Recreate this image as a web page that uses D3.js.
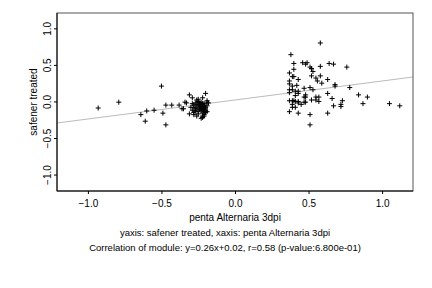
<!DOCTYPE html>
<html>
<head>
<meta charset="utf-8">
<script src="https://cdn.jsdelivr.net/npm/d3@7"></script>
<style>
  body { margin: 0; background: #fff; }
  text { font-family: "Liberation Sans", Arial, sans-serif; }
</style>
</head>
<body>
<div id="chart"></div>
<script>
// values
const xValues = [
  -0.93, -0.79, -0.50, -0.64, -0.61, -0.60, -0.55, -0.49, -0.47, -0.47, -0.43, -0.38,
  -0.34, -0.36, -0.35, -0.31, -0.29, -0.20, -0.31, -0.28, -0.26, -0.23, -0.21, -0.22,
  -0.30, -0.29, -0.28, -0.27, -0.26, -0.25, -0.24, -0.23, -0.22, -0.21, -0.20, -0.19,
  -0.28, -0.27, -0.26, -0.25, -0.24, -0.23, -0.22, -0.21, -0.20, -0.19, -0.18,
  -0.29, -0.27, -0.25, -0.24, -0.23, -0.22, -0.21, -0.20, -0.19,
  -0.28, -0.26, -0.25, -0.23, -0.22, -0.21, -0.20, -0.19,
  -0.27, -0.25, -0.24, -0.22, -0.21, -0.20, -0.25, -0.23, -0.21, -0.24, -0.22, -0.33,
  0.67, 0.58, 0.38, 0.40, 0.48, 0.49, 0.46, 0.51, 0.52, 0.58, 0.67, 0.64, 0.76, 0.40,
  0.53, 0.37, 0.40, 0.39, 0.43, 0.37, 0.56, 0.58, 0.52, 0.63, 0.55, 0.59, 0.42, 0.37,
  0.39, 0.68, 0.68, 0.78, 0.47, 0.51, 0.53, 0.37, 0.39, 0.43, 0.41, 0.43, 0.37, 0.48,
  0.63, 0.84, 0.41, 0.47, 0.48, 0.55, 0.57, 0.90, 0.66, 0.73, 0.55, 0.52, 0.57, 0.40,
  0.39, 0.41, 0.43, 0.47, 0.48, 0.37, 0.39, 0.43, 0.45, 0.72, 1.05, 1.12, 0.87, 0.39,
  0.41, 0.72, 0.37, 0.43, 0.63, 0.51, 0.51
];
const yValues = [
  -0.09, -0.01, 0.21, -0.18, -0.27, -0.13, -0.12, -0.16, -0.32, -0.05, -0.05, -0.05,
  -0.01, -0.10, -0.10, 0.09, 0.05, 0.11, -0.17, -0.18, -0.20, -0.23, -0.20, 0.05,
  -0.08, -0.12, -0.05, -0.02, -0.10, -0.14, -0.06, -0.01, -0.09, -0.03, -0.12, 0.01,
  -0.15, -0.09, -0.04, 0.00, -0.11, -0.07, -0.16, -0.05, -0.08, -0.14, -0.02,
  -0.03, -0.13, -0.17, -0.02, -0.12, -0.04, -0.11, -0.15, -0.06, -0.08,
  0.02, -0.06, -0.09, -0.03, -0.18, -0.10, -0.01, -0.13,
  -0.01, -0.04, -0.20, -0.07, -0.13, 0.03, -0.12, -0.14, -0.08, -0.22, -0.02, -0.06,
  0.80, 0.64, 0.52, 0.51, 0.53, 0.53, 0.47, 0.45, 0.48, 0.51, 0.52, 0.47, 0.44, 0.41,
  0.39, 0.34, 0.34, 0.30, 0.28, 0.28, 0.35, 0.35, 0.30, 0.32, 0.25, 0.22, 0.24, 0.21,
  0.21, 0.23, 0.19, 0.18, 0.19, 0.16, 0.16, 0.16, 0.14, 0.14, 0.11, 0.12, 0.09, 0.11,
  0.09, 0.08, 0.06, 0.06, 0.06, 0.06, 0.06, 0.04, 0.01, 0.02, 0.02, 0.00, 0.01, 0.01,
  0.00, 0.00, -0.01, -0.01, 0.01, -0.04, -0.02, -0.04, -0.04, -0.03, -0.06, -0.03, -0.08, -0.08,
  -0.07, -0.14, -0.16, -0.16, -0.18, -0.32, -0.37
];
const xTicks = [-1.0, -0.5, 0.0, 0.5, 1.0];
const yTicks = [-1.0, -0.5, 0.0, 0.5, 1.0];
const slope = 0.26, intercept = 0.02;

const xLabel = "penta Alternaria 3dpi";
const yLabel = "safener treated";
const subLines = [
  "yaxis: safener treated, xaxis: penta Alternaria 3dpi",
  "Correlation of module: y=0.26x+0.02, r=0.58 (p-value:6.800e-01)"
];

const width = 432, height = 288;
const margin = { top: 13, right: 19, bottom: 97, left: 57 };
const fontSize = "10px";

const svg = d3.select("#chart")
  .append("svg")
  .attr("width", width)
  .attr("height", height);

const x = d3.scaleLinear()
  .domain([-1.21, 1.21])
  .range([margin.left, width - margin.right]);
const y = d3.scaleLinear()
  .domain([-1.225, 1.21])
  .range([height - margin.bottom, margin.top]);

const points = xValues.map((d, i) => ({ x: d, y: yValues[i] }));

// regression line
const xd = x.domain();
svg.append("line")
  .attr("x1", x(xd[0])).attr("y1", y(slope * xd[0] + intercept))
  .attr("x2", x(xd[1])).attr("y2", y(slope * xd[1] + intercept))
  .style("stroke", "#bbb")
  .style("stroke-width", 1);

// + markers
svg.selectAll("path.pt")
  .data(points)
  .enter()
  .append("path")
  .attr("class", "pt")
  .attr("d", (d) => {
    const cx = x(d.x), cy = y(d.y);
    return `M${cx - 2.5},${cy}H${cx + 2.5}M${cx},${cy - 2.5}V${cy + 2.5}`;
  })
  .style("stroke", "#000")
  .style("stroke-width", 1)
  .style("fill", "none");

// box
svg.append("rect")
  .attr("x", margin.left).attr("y", margin.top)
  .attr("width", width - margin.left - margin.right)
  .attr("height", height - margin.top - margin.bottom)
  .style("fill", "none")
  .style("stroke", "#555")
  .style("stroke-width", 1);

const xAxis = svg.append("g")
  .attr("transform", `translate(0,${height - margin.bottom})`)
  .call(d3.axisBottom(x).tickValues(xTicks).tickFormat(d3.format(".1f")).tickSize(3).tickPadding(6));
const yAxis = svg.append("g")
  .attr("transform", `translate(${margin.left},0)`)
  .call(d3.axisLeft(y).tickValues(yTicks).tickFormat(d3.format(".1f")).tickSize(3).tickPadding(5));

[xAxis, yAxis].forEach((g) => {
  g.select(".domain").remove();
  g.selectAll("text")
    .style("font-family", "'Liberation Sans', Arial, sans-serif")
    .style("font-size", fontSize)
    .style("fill", "#000");
});
// rotated y tick labels, like R's default las=0
yAxis.selectAll(".tick text")
  .attr("text-anchor", "middle")
  .attr("x", 0).attr("y", 0).attr("dy", "0")
  .attr("transform", "translate(-6,0) rotate(-90)");

// axis lines (left and bottom in black)
svg.append("line")
  .attr("x1", margin.left).attr("x2", margin.left)
  .attr("y1", margin.top).attr("y2", height - margin.bottom)
  .style("stroke", "#000");
svg.append("line")
  .attr("x1", margin.left).attr("x2", width - margin.right)
  .attr("y1", height - margin.bottom).attr("y2", height - margin.bottom)
  .style("stroke", "#000");

const midX = (margin.left + width - margin.right) / 2;
svg.append("text")
  .attr("x", midX).attr("y", 220.5)
  .attr("text-anchor", "middle")
  .style("font-size", fontSize)
  .text(xLabel);

svg.append("text")
  .attr("transform", `translate(37,${(margin.top + height - margin.bottom) / 2}) rotate(-90)`)
  .attr("text-anchor", "middle")
  .style("font-size", fontSize)
  .text(yLabel);

svg.selectAll("text.sub")
  .data(subLines)
  .enter()
  .append("text")
  .attr("class", "sub")
  .attr("x", midX - 10)
  .attr("y", (d, i) => 235.5 + i * 15)
  .attr("text-anchor", "middle")
  .style("font-size", "9.5px")
  .text((d) => d);
</script>
</body>
</html>
